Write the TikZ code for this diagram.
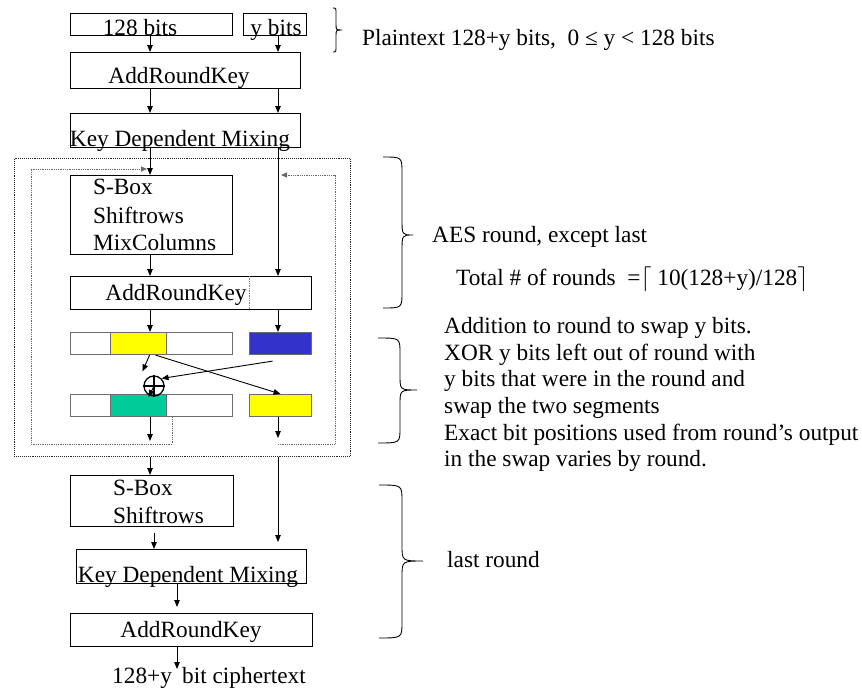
\documentclass[tikz,border=0pt]{standalone}
\usepackage{fontspec}
\setmainfont{Liberation Serif}
\usetikzlibrary{arrows.meta,calc}
\newcommand{\mybrace}[7]{% x0 xv xt yt ym yb r
  \draw[line width=0.9pt] (#1,#4) .. controls (#2,#4) and (#2,#4) .. (#2,#4+#7)
    -- (#2,#5-#7) .. controls (#2,#5) and (#2,#5) .. (#3,#5)
    .. controls (#2,#5) and (#2,#5) .. (#2,#5+#7)
    -- (#2,#6-#7) .. controls (#2,#6) and (#2,#6) .. (#1,#6);}
\begin{document}
\begin{tikzpicture}[x=1pt,y=-1pt,
  box/.style={draw=black, line width=0.9pt, inner sep=0pt, anchor=north west},
  bar/.style={draw=gray!85!black, line width=1.1pt, inner sep=0pt, anchor=north west},
  txt/.style={inner sep=0pt, font=\fontsize{23.3}{27}\selectfont},
  arr/.style={line width=0.9pt, -{Triangle[length=7pt,width=5.5pt]}},
  lp/.style={densely dotted, line width=0.8pt, draw=gray!80!black, -{Triangle[length=6pt,width=5pt]}}]
\useasboundingbox (0,0) rectangle (862,688);
\coordinate (cL) at (150,0);
\coordinate (cR) at (278,0);
\coordinate (cS) at (154,0);
\coordinate (cM) at (177,0);
\coordinate (lpA) at (172,0);
% top
\node[box, minimum width=162pt, minimum height=22pt] (p128) at (70,13) {};
\node[box, minimum width=63pt, minimum height=22pt] (py) at (243,13) {};
\node[txt, anchor=base] (t128) at (140,35) {128 bits};
\node[txt, anchor=base] (ty) at (276,35) {y bits};
\node[box, minimum width=230pt, minimum height=36pt] (ark1) at (70,52) {};
\node[txt, anchor=base] (tark1) at (179,83) {AddRoundKey};
\node[box, minimum width=230pt, minimum height=34pt] (kdm1) at (70,113) {};
\node[txt, anchor=base] (tkdm1) at (180,146) {Key Dependent Mixing};
% outer dotted
\node[draw=black!85, densely dotted, line width=0.9pt, inner sep=0pt, anchor=north west,
  minimum width=336pt, minimum height=298pt] (outer) at (14,158) {};
% round
\node[box, minimum width=162pt, minimum height=79pt] (sbox1) at (70,175) {};
\node[txt, anchor=base west] (s1a) at (93,194) {S-Box};
\node[txt, anchor=base west] (s1b) at (93,223) {Shiftrows};
\node[txt, anchor=base west] (s1c) at (93,250) {MixColumns};
\node[box, minimum width=241pt, minimum height=33pt] (ark2) at (70,276) {};
\coordinate (dv) at (249,0);
\draw[densely dotted, gray, line width=0.7pt] (ark2.north -| dv) -- (ark2.south -| dv);
\node[txt, anchor=base] (tark2) at (176,300) {AddRoundKey};
% bars
\node[bar, minimum width=162pt, minimum height=22pt] (bar1) at (70,332) {};
\node[bar, fill={rgb,255:red,255;green,255;blue,0}, minimum width=56pt, minimum height=22pt] (yel1) at (110,332) {};
\node[bar, fill={rgb,255:red,51;green,51;blue,204}, minimum width=62pt, minimum height=22pt] (blue) at (249,332) {};
\node[bar, minimum width=162pt, minimum height=22pt] (bar2) at (70,394) {};
\node[bar, fill={rgb,255:red,0;green,204;blue,153}, minimum width=56pt, minimum height=22pt] (green) at (110,394) {};
\node[bar, fill={rgb,255:red,255;green,255;blue,0}, minimum width=62pt, minimum height=22pt] (yel2) at (249,394) {};
\node[circle, draw, line width=1.3pt, minimum size=20pt, inner sep=0pt] (xor) at (154,386) {};
\draw[line width=1.3pt] (xor.north) -- (xor.south) (xor.west) -- (xor.east);
% lower
\node[box, minimum width=163pt, minimum height=51pt] (sbox2) at (70,475) {};
\node[txt, anchor=base west] (s2a) at (113,495) {S-Box};
\node[txt, anchor=base west] (s2b) at (113,523) {Shiftrows};
\node[box, minimum width=230pt, minimum height=34pt] (kdm2) at (76,549) {};
\node[txt, anchor=base] (tkdm2) at (188,582) {Key Dependent Mixing};
\node[box, minimum width=242pt, minimum height=33pt] (ark3) at (70,613) {};
\node[txt, anchor=base] (tark3) at (191,637) {AddRoundKey};
\node[txt, anchor=base west] (c1) at (112,683) {128+y};
\node[txt, anchor=base west] (c2) at (182,683) {bit ciphertext};
\coordinate (e1) at (150,441);
\coordinate (e2) at (278,438);
\coordinate (cEnd) at (177,669);
\coordinate (lpEnd) at (147,169);
\coordinate (rpEnd) at (281,175);
% arrows
\draw[arr] (p128.south -| cL) -- (ark1.north -| cL);
\draw[arr] (py.south -| cR) -- (ark1.north -| cR);
\draw[arr] (ark1.south -| cL) -- (kdm1.north -| cL);
\draw[arr] (ark1.south -| cR) -- (kdm1.north -| cR);
\draw[arr] (kdm1.south -| cL) -- (sbox1.north -| cL);
\draw[arr] (kdm1.south -| cR) -- (ark2.north -| cR);
\draw[arr] (sbox1.south -| cL) -- (ark2.north -| cL);
\draw[arr] (ark2.south -| cL) -- (bar1.north -| cL);
\draw[arr] (ark2.south -| cR) -- (blue.north -| cR);
\draw[arr] ($(yel1.south)+(11,0)$) -- ($(xor.north west)+(-4,-7)$);
\draw[arr] ($(yel1.south)+(17,0)$) -- (yel2.north);
\draw[arr] ($(blue.south)+(-8,6)$) -- (xor.north east);
\draw[arr] (xor.center) -- ($(green.north)+(10,3)$);
\draw[arr] (bar2.south -| cL) -- (e1);
\draw[arr] (yel2.south -| cR) -- (e2);
\draw[lp] (bar2.south -| lpA) -- (172,444) -- (31,444) -- (31,169) -- (lpEnd);
\draw[lp] (278,444) -- (335,444) -- (335,175) -- (rpEnd);
\draw[arr] (outer.south -| cL) -- (sbox2.north -| cL);
\draw[arr, shorten >=7pt] (outer.south -| cR) -- (kdm2.north -| cR);
\draw[arr, shorten <=6pt] (sbox2.south -| cS) -- (kdm2.north -| cS);
\draw[arr, shorten >=6pt] (kdm2.south -| cM) -- (ark3.north -| cM);
\draw[arr] (ark3.south -| cM) -- (cEnd);
% braces
\mybrace{333}{336}{342}{8}{30}{52}{6}
\mybrace{383}{402}{413}{157}{235}{308}{16}
\mybrace{378}{400}{417}{338}{390}{443}{15}
\mybrace{379}{402}{423}{485}{561}{638}{16}
% right texts
\node[txt, anchor=base west] (plain) at (362,45) {Plaintext 128+y bits,\ \ 0 ≤ y < 128 bits};
\node[txt, anchor=base west] (aes) at (432,242) {AES round, except last};
\node[txt, anchor=base west] (tot) at (456,285) {Total \# of rounds\ \ =$\lceil$\ 10(128+y)/128$\rceil$};
\node[txt, anchor=base west] (n1) at (444,333) {Addition to round to swap y bits.};
\node[txt, anchor=base west] (n2) at (444,360) {XOR y bits left out of round with};
\node[txt, anchor=base west] (n3) at (444,386) {y bits that were in the round and};
\node[txt, anchor=base west] (n4) at (444,413) {swap the two segments};
\node[txt, anchor=base west] (n5) at (444,440) {Exact bit positions used from round’s output};
\node[txt, anchor=base west] (n6) at (444,466) {in the swap varies by round.};
\node[txt, anchor=base west] (last) at (447,567) {last round};
\end{tikzpicture}
\end{document}
